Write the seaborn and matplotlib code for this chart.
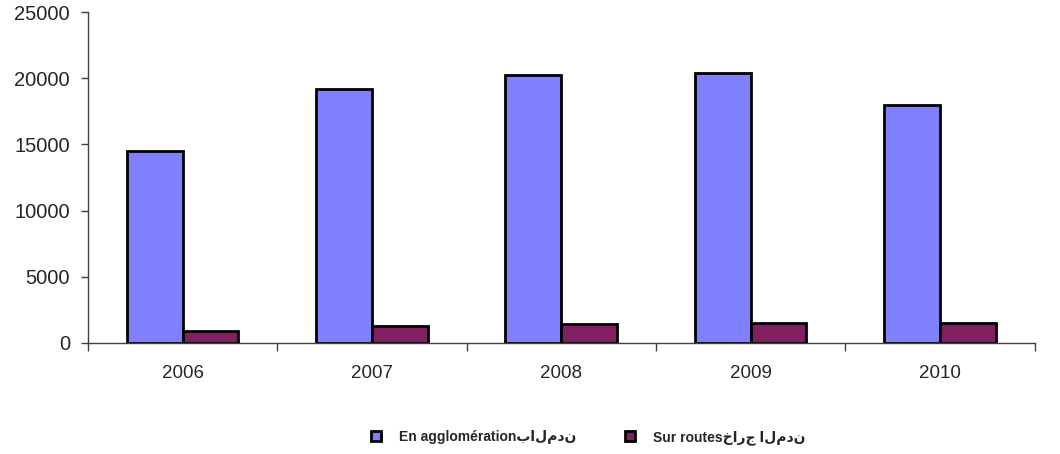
import pandas as pd
import seaborn as sns
import matplotlib.pyplot as plt
from matplotlib.ticker import FixedLocator

# valeurs
annees = ['2006', '2007', '2008', '2009', '2010']
serie_noms = ['En agglomérationبالمدن', 'Sur routesخارج المدن']
agglomeration = [14500, 19150, 20250, 20400, 17950]
routes = [910, 1280, 1430, 1490, 1540]
couleurs = ['#8080FF', '#802060']

df = pd.DataFrame({
    'annee': annees * 2,
    'serie': [serie_noms[0]] * 5 + [serie_noms[1]] * 5,
    'valeur': agglomeration + routes,
})

sns.set_style('white')
plt.rcParams['font.family'] = ['Liberation Sans', 'DejaVu Sans']

fig = plt.figure(figsize=(10.6, 4.54), dpi=100)
ax = fig.add_axes([0.083, 0.2445, 0.893, 0.729])

sns.barplot(data=df, x='annee', y='valeur', hue='serie', palette=couleurs,
            width=0.59, gap=0, edgecolor='black', linewidth=2, saturation=1,
            ax=ax, legend=True)

ax.set_xlim(-0.5, 4.5)
ax.set_ylim(0, 25000)
ax.set_yticks([0, 5000, 10000, 15000, 20000, 25000])
ax.set_xlabel('')
ax.set_ylabel('')

sns.despine(ax=ax)
for s in ['left', 'bottom']:
    ax.spines[s].set_color('#404040')
    ax.spines[s].set_linewidth(1)

ax.xaxis.set_minor_locator(FixedLocator([-0.5, 0.5, 1.5, 2.5, 3.5, 4.5]))
ax.tick_params(axis='x', which='major', length=0, pad=16, labelsize=13.5)
ax.tick_params(axis='x', which='minor', length=6, width=1, color='#404040',
               direction='out', bottom=True)
ax.tick_params(axis='y', length=5, width=1, color='#404040', direction='out',
               left=True, labelsize=14.5, pad=8)

ax.legend_.remove()
handles, labels = ax.get_legend_handles_labels()
fig.legend(handles[:2], labels[:2], loc='center', bbox_to_anchor=(0.555, 0.037),
           ncol=2, frameon=False, handlelength=0.7, handleheight=0.7,
           columnspacing=3.5, handletextpad=1.3,
           prop={'weight': 'bold', 'size': 10,
                 'family': ['Liberation Sans', 'DejaVu Sans']})

fig.savefig('out.png', dpi=100)
